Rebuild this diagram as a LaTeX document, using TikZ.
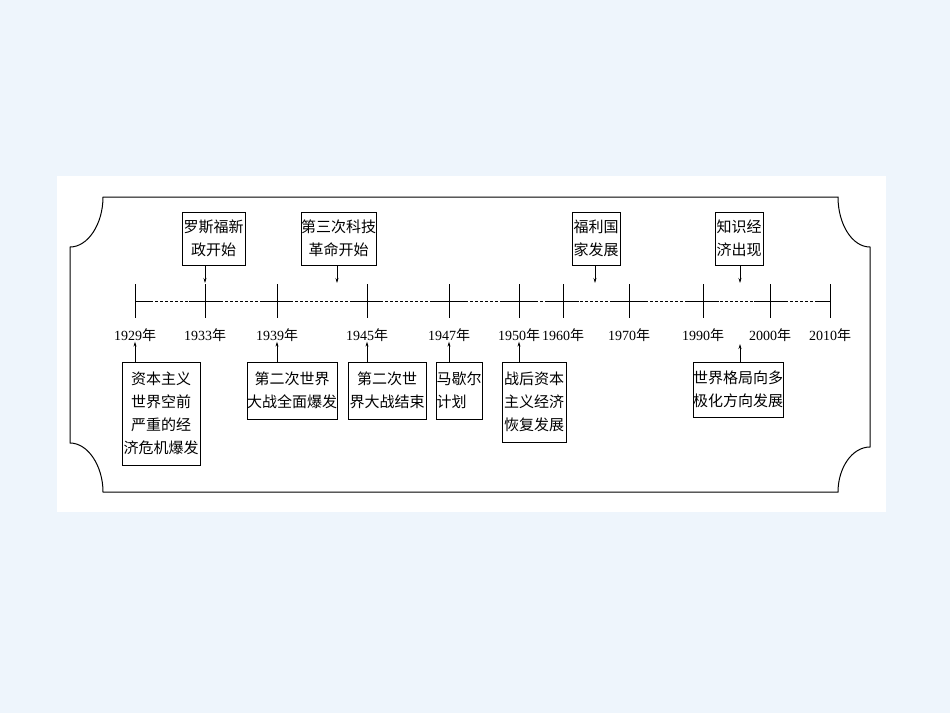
\documentclass[tikz,border=0pt]{standalone}
\usepackage{fontspec}
\usetikzlibrary{arrows.meta}
\setmainfont{Liberation Serif}
\newfontfamily\cjk{Noto Sans CJK SC}
\begin{document}
\begin{tikzpicture}[x=1pt,y=-1pt,
  box/.style={draw,line width=0.9pt,inner sep=0pt,font=\cjk\fontsize{15}{23}\selectfont,align=center},
  yr/.style={font=\fontsize{14}{14}\selectfont,inner sep=0pt},
  arr/.style={-{Stealth[length=5pt,width=3pt]},line width=0.7pt},
  tk/.style={line width=0.9pt}]
\fill[fill={rgb,255:red,238;green,245;blue,252}] (0,0) rectangle (950,713);
\useasboundingbox (0,0) rectangle (950,713);
\fill[white] (57,176) rectangle (886,512);
% frame
\draw[line width=1pt] (103,197) -- (838,197)
  .. controls (838,224) and (852,247) .. (870,247) -- (870,447)
  .. controls (852,447) and (838,468) .. (838,492) -- (103,492)
  .. controls (103,466) and (88,443) .. (70,443) -- (70,247)
  .. controls (88,247) and (103,224) .. (103,197) -- cycle;
% timeline
\coordinate (L) at (135,301);
\coordinate (R) at (830,301);
\draw[dash pattern=on 3pt off 2pt,line width=0.9pt] (L) -- (R);
\foreach \x/\y in {1929/135,1933/205,1939/277,1945/367,1947/449,1950/519,1960/563,1970/629,1990/703,2000/770,2010/830}{
  \coordinate (t\x) at (\y,301);
  \draw[tk] (\y,284) -- (\y,318);
  \node[yr] (y\x) at (\y,335) {\x{\cjk 年}};
}
\foreach \x in {205,277,367,449,519,563,629,703,770}{\draw[tk] (\x-16,301) -- (\x+16,301);}
\draw[tk] (135,301) -- (150,301);
\draw[tk] (815,301) -- (830,301);
% top boxes
\node[box,minimum width=63,minimum height=53] (b1) at (213.5,238.5) {罗斯福新\\政开始};
\node[box,minimum width=75,minimum height=53] (b2) at (338.5,238.5) {第三次科技\\革命开始};
\node[box,minimum width=48,minimum height=53] (b3) at (596,238.5) {福利国\\家发展};
\node[box,minimum width=48,minimum height=53] (b4) at (739,238.5) {知识经\\济出现};
\coordinate (a1) at (205,283);
\coordinate (a2) at (337,283);
\coordinate (a3) at (595,283);
\coordinate (a4) at (740,283);
\draw[arr] (b1.south -| a1) -- (a1);
\draw[arr] (b2.south -| a2) -- (a2);
\draw[arr] (b3.south -| a3) -- (a3);
\draw[arr] (b4.south -| a4) -- (a4);
% bottom boxes
\node[box,minimum width=78,minimum height=103] (c1) at (161,413.5) {资本主义\\世界空前\\严重的经\\济危机爆发};
\node[box,minimum width=90,minimum height=57] (c2) at (292,390.5) {第二次世界\\大战全面爆发};
\node[box,minimum width=78,minimum height=57] (c3) at (387,390.5) {第二次世\\界大战结束};
\node[box,minimum width=46,minimum height=57,align=left] (c4) at (459,390.5) {马歇尔\\计划};
\node[box,minimum width=64,minimum height=80] (c5) at (534,402) {战后资本\\主义经济\\恢复发展};
\node[box,minimum width=88,minimum height=55] (c6) at (738,389.5) {世界格局向多\\极化方向发展};
\coordinate (d6) at (740,344);
\draw[arr] (c1.north -| y1929) -- (y1929.south);
\draw[arr] (c2.north -| y1939) -- (y1939.south);
\draw[arr] (c3.north -| y1945) -- (y1945.south);
\draw[arr] (c4.north -| y1947) -- (y1947.south);
\draw[arr] (c5.north -| y1950) -- (y1950.south);
\draw[arr] (c6.north -| d6) -- (d6);
\end{tikzpicture}
\end{document}
